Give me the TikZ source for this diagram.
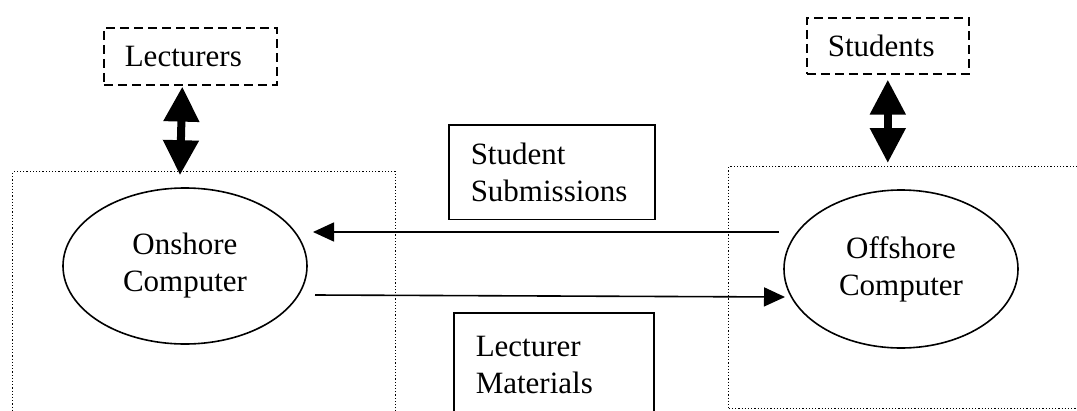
\documentclass[tikz,border=0pt]{standalone}
\usepackage{fontspec}
\setmainfont{Liberation Serif}
\usetikzlibrary{arrows.meta,shapes.geometric,calc}
\tikzset{
  txt/.style={font=\fontsize{31}{37}\selectfont},
  dashbox/.style={draw, line width=1.6pt, dash pattern=on 9pt off 5pt, txt, align=left, anchor=north west, inner xsep=21pt, inner ysep=0pt},
  dotbox/.style={draw, line width=1.4pt, dash pattern=on 1.2pt off 2pt, anchor=north west, inner sep=0pt},
  plainbox/.style={draw, line width=1.5pt, txt, align=left, anchor=north west, inner xsep=22pt},
  oval/.style={draw, ellipse, line width=1.6pt, txt, align=center, inner sep=0pt},
  fat/.style={line width=8pt, {Triangle[length=35pt,width=34pt]}-{Triangle[length=35pt,width=34pt]}},
  thin/.style={line width=1.6pt, -{Triangle[length=21pt,width=19pt]}}
}
\begin{document}
\begin{tikzpicture}[x=1pt,y=-1pt]
\useasboundingbox (0,0) rectangle (1077,410);
\clip (0,0) rectangle (1077,410);
% dotted boundaries
\node[dotbox, minimum width=383pt, minimum height=260pt] (onbox) at (12,171) {};
\node[dotbox, minimum width=362pt, minimum height=242pt] (offbox) at (728,166) {};
% external entities
\node[dashbox, minimum height=57pt, text width=131pt] (lect) at (103,27) {Lecturers};
\node[dashbox, minimum height=56pt, text width=120pt] (stud) at (806,17) {Students};
% processes
\node[oval, minimum width=244pt, minimum height=156pt] (onshore) at (185,266) {Onshore\\Computer};
\node[oval, minimum width=234pt, minimum height=158pt] (offshore) at (901,269) {Offshore\\Computer};
% data flow labels
\node[plainbox, inner ysep=18pt, minimum height=93pt, text width=162pt] (subm) at (448,124) {Student\\Submissions};
\node[plainbox, inner ysep=19.5pt, minimum height=104pt, text width=156pt] (mats) at (453,312) {Lecturer\\Materials};
% two-way links
\draw[fat] ($(lect.south)+(-8,1)$) -- ($(onshore.north)+(-5,-12)$);
\draw[fat] ($(stud.south)+(0,5)$) -- ($(stud.south |- offbox.north)+(0,-3)$);
% flows
\draw[thin] ($(offshore.center)+(-122,-37)$) -- ($(onshore.center)+(128,-34)$);
\draw[thin] ($(onshore.center)+(130,29)$) -- ($(offshore.center)+(-116,28)$);
\end{tikzpicture}
\end{document}
